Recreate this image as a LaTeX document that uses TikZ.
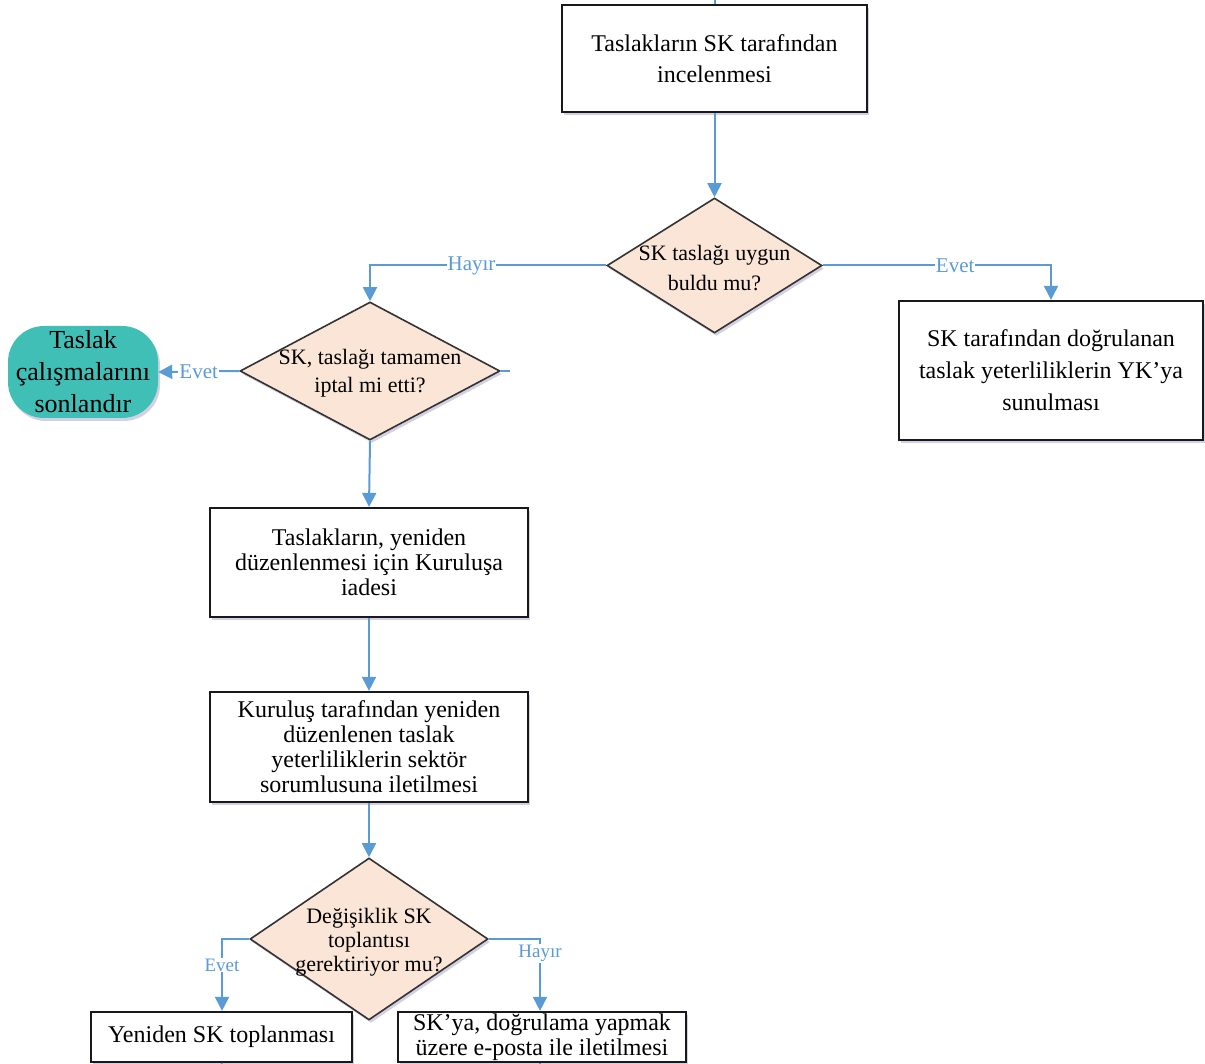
\documentclass[tikz,border=0pt]{standalone}
\usepackage{fontspec}
\setmainfont{Liberation Serif}
\usetikzlibrary{shapes.geometric,arrows.meta,shadows}
\definecolor{lineblue}{HTML}{5B9BD5}
\definecolor{peach}{HTML}{FBE5D6}
\definecolor{tealfill}{HTML}{40BFB6}
\begin{document}
\begin{tikzpicture}[x=1pt,y=-1pt,
  shd/.style={drop shadow={opacity=0.18, shadow xshift=2pt, shadow yshift=-3pt, fill=black!60!blue}},
  box/.style={draw=black!90, line width=2.2pt, fill=white, inner sep=0pt, align=center, shd},
  dia/.style={diamond, draw=black!80, line width=1.6pt, fill=peach, inner sep=0pt, shd},
  txt/.style={inner sep=0pt, align=center},
  conn/.style={draw=lineblue, line width=2pt, -{Triangle[width=14pt,length=14pt]}},
  stub/.style={draw=lineblue, line width=2pt},
  lbl/.style={fill=white, inner sep=1pt, text=lineblue, font=\fontsize{21}{24}\selectfont},
  lbls/.style={fill=white, inner sep=1pt, text=lineblue, font=\fontsize{19}{20}\selectfont}
]
\useasboundingbox (0,0) rectangle (1205,1064);

% nodes
\node[box, minimum width=305pt, minimum height=107pt, font=\fontsize{24}{31}\selectfont]
  (top) at (714.5,58.5) {Taslakların SK tarafından\\incelenmesi};

\node[dia, minimum width=215pt, minimum height=135pt] (d1) at (714.5,265.5) {};
\node[txt, font=\fontsize{22}{30}\selectfont] (d1t) at (714.5,268) {SK taslağı uygun\\buldu mu?};

\node[box, minimum width=304pt, minimum height=139pt, font=\fontsize{24}{32}\selectfont]
  (rbox) at (1051,370.5) {SK tarafından doğrulanan\\taslak yeterliliklerin YK’ya\\sunulması};

\node[dia, minimum width=260pt, minimum height=138pt] (d2) at (370,371) {};
\node[txt, font=\fontsize{22}{28}\selectfont] (d2t) at (370,373) {SK, taslağı tamamen\\iptal mi etti?};

\node[draw=none, fill=tealfill, rounded corners=36pt, minimum width=150pt, minimum height=92pt,
  inner sep=0pt, align=center, font=\fontsize{26}{32}\selectfont, shd]
  (term) at (83,372) {Taslak\\çalışmalarını\\sonlandır};

\node[box, minimum width=318pt, minimum height=109pt, font=\fontsize{24}{25}\selectfont]
  (b3) at (369,562.5) {Taslakların, yeniden\\düzenlenmesi için Kuruluşa\\iadesi};

\node[box, minimum width=318pt, minimum height=110pt, font=\fontsize{24}{25}\selectfont]
  (b4) at (369,747) {Kuruluş tarafından yeniden\\düzenlenen taslak\\yeterliliklerin sektör\\sorumlusuna iletilmesi};

\node[dia, minimum width=238pt, minimum height=162pt] (d3) at (369,939) {};
\node[txt, font=\fontsize{22}{24}\selectfont] (d3t) at (369,942) {Değişiklik SK\\toplantısı\\gerektiriyor mu?};

\node[box, minimum width=261pt, minimum height=50pt, font=\fontsize{24}{25}\selectfont]
  (b5) at (221.5,1037) {Yeniden SK toplanması};

\node[box, minimum width=288pt, minimum height=50pt, font=\fontsize{24}{25}\selectfont]
  (b6) at (542,1037) {SK’ya, doğrulama yapmak\\üzere e-posta ile iletilmesi};

% stubs
\coordinate (topin) at (714.5,0);
\coordinate (d2out) at (510,371);
\coordinate (b5out) at (222,1064);
\coordinate (b6out) at (540,1064);
\draw[stub] (topin) -- (top.north);
\draw[stub] (d2.east) -- (d2out);
\draw[stub] (b5.south) -- (b5out);
\draw[stub] (b6.south -| b6out) -- (b6out);

% connectors
\draw[conn] (top.south) -- (d1.north);
\draw[conn] (d1.west) -| node[lbl, pos=0.285] (l1) {Hayır} (d2.north);
\draw[conn] (d1.east) -| node[lbl, pos=0.29] (l2) {Evet} (rbox.north);
\draw[conn] (d2.west) -- node[lbl, pos=0.5] (l3) {Evet} (term.east);
\draw[conn] (d2.south) -- (b3.north);
\draw[conn] (b3.south) -- (b4.north);
\draw[conn] (b4.south) -- (d3.north);
\draw[conn] (d3.west) -| node[lbls, pos=0.68] (l4) {Evet} ([xshift=0.5pt]b5.north);
\draw[conn] (d3.east) -| node[lbls, pos=0.6] (l5) {Hayır} ([xshift=-2pt]b6.north);
\end{tikzpicture}
\end{document}
